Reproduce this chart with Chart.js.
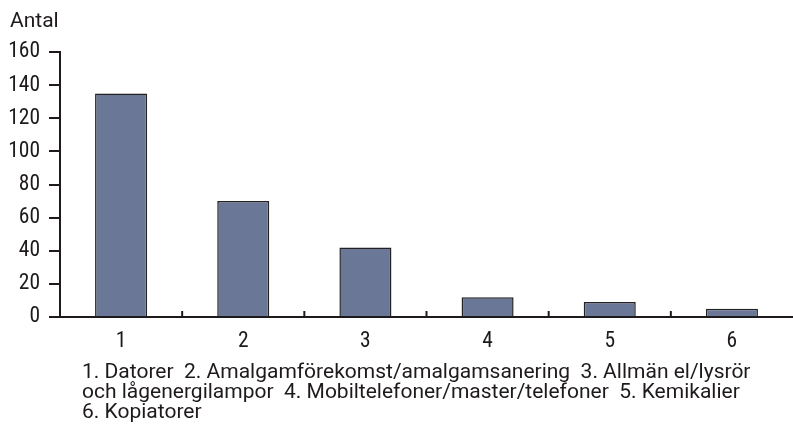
<!DOCTYPE html>
<html>
<head>
<meta charset="utf-8">
<script src="https://cdn.jsdelivr.net/npm/chart.js@4"></script>
<style>
  html, body { margin: 0; padding: 0; background: #fff; }
  #wrap { position: relative; width: 793px; height: 428px; }
  #yTitle { position: absolute; left: 10px; top: 10px; font: 21px/20px Roboto, sans-serif; color: #1e1a1b; }
  #note { position: absolute; left: 82px; top: 361px; font: 21px/20px Roboto, sans-serif; color: #1e1a1b; white-space: pre; }
</style>
</head>
<body>
<div id="wrap">
  <canvas id="chart" width="793" height="428"></canvas>
  <div id="yTitle">Antal</div>
  <div id="note"></div>
</div>
<script>
const categories = ['1', '2', '3', '4', '5', '6'];
const counts = [135, 70, 42, 12, 9, 5];
const noteLines = [
    '1. Datorer  2. Amalgamförekomst/amalgamsanering  3. Allmän el/lysrör',
    'och lågenergilampor  4. Mobiltelefoner/master/telefoner  5. Kemikalier',
    '6. Kopiatorer'
];

document.getElementById('note').textContent = noteLines.join('\n');

const ink = '#1e1a1b';
// 'condensed' hamnar i font-strängen som font-stretch
const font = { family: 'Roboto, sans-serif', size: 21.5, weight: 'condensed' };

// små streck uppåt mellan kategorierna
const innerTicks = {
    id: 'innerTicks',
    afterDatasetsDraw(chart) {
        const x = chart.scales.x, ctx = chart.ctx;
        const base = chart.chartArea.bottom;
        ctx.save();
        ctx.strokeStyle = ink;
        ctx.lineWidth = 2;
        for (let i = 1; i < categories.length; i++) {
            const px = (x.getPixelForValue(i - 1) + x.getPixelForValue(i)) / 2;
            ctx.beginPath();
            ctx.moveTo(px, base);
            ctx.lineTo(px, base - 6);
            ctx.stroke();
        }
        ctx.restore();
    }
};

new Chart(document.getElementById('chart'), {
    type: 'bar',
    data: {
        labels: categories,
        datasets: [{
            data: counts,
            backgroundColor: '#6b7797',
            borderColor: '#222',
            borderWidth: 1.5,
            borderSkipped: 'bottom',
            barPercentage: 0.426,
            categoryPercentage: 1
        }]
    },
    options: {
        responsive: false,
        animation: false,
        layout: { padding: { top: 52, right: 0, left: 0, bottom: 0 } },
        plugins: { legend: { display: false }, tooltip: { enabled: false } },
        scales: {
            x: {
                grid: { display: false },
                border: { color: ink, width: 2 },
                ticks: { color: ink, font: font, padding: 4 },
                afterFit: (s) => { s.height = 111; }
            },
            y: {
                min: 0,
                max: 160,
                ticks: { stepSize: 20, color: ink, font: font, padding: 9 },
                grid: { drawOnChartArea: false, tickLength: 11, color: ink, lineWidth: 2 },
                border: { color: ink, width: 2 },
                afterFit: (s) => { s.width = 60; }
            }
        }
    },
    plugins: [innerTicks]
});
</script>
</body>
</html>
